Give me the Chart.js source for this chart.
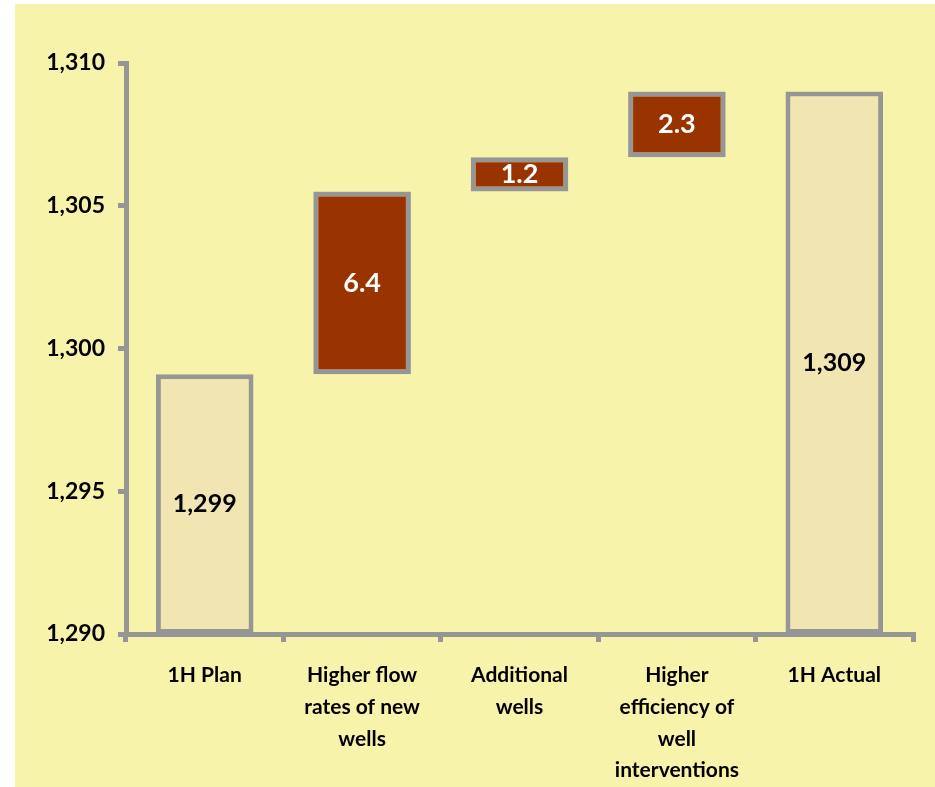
<!DOCTYPE html>
<html>
<head>
<meta charset="utf-8">
<script src="https://cdn.jsdelivr.net/npm/chart.js@4/dist/chart.umd.min.js"></script>
<style>
  body { margin: 0; background: #ffffff; }
  canvas { display: block; }
</style>
</head>
<body>
<canvas id="chart" width="935" height="787"></canvas>
<script>
// Categories and waterfall values (bar start / bar end)
const categories = [
    '1H Plan',
    ['Higher flow', 'rates of new', 'wells'],
    ['Additional', 'wells'],
    ['Higher', 'efficiency of', 'well', 'interventions'],
    '1H Actual'
];
const barStart = [1290, 1299.1, 1305.5, 1306.7, 1290];
const barEnd = [1299.1, 1305.5, 1306.7, 1309.0, 1309.0];
const isTotal = [true, false, false, false, true];
const yTicks = [1290, 1295, 1300, 1305, 1310];

const gray = '#969696';
const totalFill = '#F1E6B2';
const deltaFill = '#993300';

// Paint the yellow panel behind the chart
const panelBackground = {
    id: 'panelBackground',
    beforeDraw(chart) {
        const ctx = chart.ctx;
        ctx.save();
        ctx.fillStyle = '#F7F3AB';
        ctx.fillRect(15, 4, chart.width - 15, chart.height - 4);
        ctx.restore();
    }
};

// Value labels in the middle of each bar
const barLabels = {
    id: 'barLabels',
    afterDatasetsDraw(chart) {
        const ctx = chart.ctx;
        const meta = chart.getDatasetMeta(0);
        ctx.save();
        ctx.textAlign = 'center';
        ctx.textBaseline = 'middle';
        meta.data.forEach((bar, i) => {
            let text;
            if (isTotal[i]) {
                text = Math.round(barEnd[i]).toLocaleString('en-US');
                ctx.fillStyle = '#000000';
                ctx.font = 'bold 25px Lato';
            } else {
                text = (barEnd[i] - barStart[i]).toFixed(1);
                ctx.fillStyle = '#ffffff';
                ctx.font = 'bold 27px Lato';
            }
            ctx.fillText(text, bar.x, (bar.y + bar.base) / 2);
        });
        ctx.restore();
    }
};

const ctx = document.getElementById('chart').getContext('2d');
new Chart(ctx, {
    type: 'bar',
    data: {
        labels: categories,
        datasets: [{
            data: barStart.map((s, i) => [s, barEnd[i]]),
            backgroundColor: isTotal.map(t => t ? totalFill : deltaFill),
            borderColor: gray,
            borderWidth: 5,
            borderSkipped: false,
            barPercentage: 0.62,
            categoryPercentage: 1.0
        }]
    },
    options: {
        responsive: false,
        animation: false,
        layout: {
            padding: { top: 63, right: 22, left: 0, bottom: 0 }
        },
        plugins: {
            legend: { display: false },
            tooltip: { enabled: false }
        },
        scales: {
            x: {
                offset: true,
                grid: {
                    offset: true,
                    drawOnChartArea: false,
                    color: gray,
                    lineWidth: 5,
                    tickLength: 8
                },
                border: { color: gray, width: 5 },
                ticks: {
                    color: '#000000',
                    font: { family: 'Lato', weight: 'bold', size: 21, lineHeight: 1.52 },
                    padding: 17,
                    maxRotation: 0,
                    autoSkip: false
                },
                afterFit(scale) { scale.height = 153; }
            },
            y: {
                min: 1290,
                max: 1310,
                afterBuildTicks(scale) {
                    scale.ticks = yTicks.map(v => ({ value: v }));
                },
                grid: {
                    drawOnChartArea: false,
                    color: gray,
                    lineWidth: 5,
                    tickLength: 8
                },
                border: { color: gray, width: 5 },
                ticks: {
                    color: '#000000',
                    font: { family: 'Lato', weight: 'bold', size: 23 },
                    padding: 13,
                    callback: v => v.toLocaleString('en-US')
                },
                afterFit(scale) { scale.width = 126; }
            }
        }
    },
    plugins: [panelBackground, barLabels]
});
</script>
</body>
</html>
